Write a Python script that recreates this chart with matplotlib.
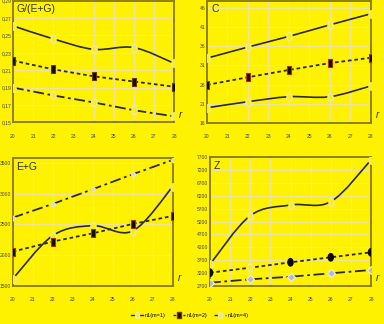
import numpy as np
import matplotlib
matplotlib.use("Agg")
import matplotlib.pyplot as plt
from matplotlib.path import Path
from matplotlib.patches import PathPatch
from matplotlib.lines import Line2D

plt.rcParams['font.family'] = ['Liberation Sans Narrow', 'Liberation Sans', 'DejaVu Sans']

# ---- data ----
r = [20, 22, 24, 26, 28]
x_ticks = [20, 21, 22, 23, 24, 25, 26, 27, 28]

ratio_s1 = [0.261, 0.246, 0.234, 0.236, 0.218]
ratio_s2 = [0.221, 0.211, 0.203, 0.197, 0.191]
ratio_s3 = [0.190, 0.181, 0.173, 0.164, 0.157]

c_s1 = [32.9, 35.8, 38.6, 41.6, 44.5]
c_s2 = [25.9, 27.9, 29.8, 31.6, 33.0]
c_s3 = [19.9, 21.5, 22.8, 22.8, 25.6]

eg_s1 = [1610, 2317, 2480, 2394, 3118]
eg_s2 = [2056, 2220, 2355, 2508, 2639]
eg_s3 = [2611, 2835, 3075, 3320, 3554]

z_s1 = [3533, 5426, 5843, 5971, 7595]
z_s2 = [3206, 3401, 3611, 3806, 4000]
z_s3 = [2817, 2949, 3050, 3183, 3311]

legend_labels = ["n1(m=1)", "n1(m=2)", "n1(m=4)"]

BG = '#fff200'
FRAME = '#8f8000'
GRID = '#eee4a0'
LINE = '#2a2a2a'

W, H = 384, 324
fig = plt.figure(figsize=(W / 100, H / 100), dpi=100, facecolor=BG)

# custom marker shapes: tall ellipse and tall rectangle
t = np.linspace(0, 2 * np.pi, 40)
ellipse = Path(np.column_stack([0.7 * np.cos(t), np.sin(t)]), closed=True)
rect = Path([(-0.55, -1), (0.55, -1), (0.55, 1), (-0.55, 1), (-0.55, -1)], closed=True)


def px_axes(L, R, T, B):
    ax = fig.add_axes([L / W, 1 - B / H, (R - L) / W, (B - T) / H])
    ax.set_facecolor(BG)
    for s in ax.spines.values():
        s.set_color(FRAME)
        s.set_linewidth(1.4)
    ax.set_xlim(20, 28)
    ax.set_xticks(x_ticks)
    ax.set_xticklabels([str(v) for v in x_ticks])
    ax.grid(True, color=GRID, lw=0.8)
    ax.set_axisbelow(True)
    ax.tick_params(length=0, labelsize=3.6, colors='#444444')
    ax.tick_params(axis='x', pad=8)
    ax.tick_params(axis='y', pad=1.2)
    return ax


def smooth(ax, x, y, lw=1.2, color=LINE):
    pts = np.column_stack([x, y]).astype(float)
    n = len(pts)
    verts = [tuple(pts[0])]
    codes = [Path.MOVETO]
    for i in range(n - 1):
        p0 = pts[max(i - 1, 0)]
        p1 = pts[i]
        p2 = pts[i + 1]
        p3 = pts[min(i + 2, n - 1)]
        c1 = p1 + (p2 - p0) / 6
        c2 = p2 - (p3 - p1) / 6
        verts += [tuple(c1), tuple(c2), tuple(p2)]
        codes += [Path.CURVE4] * 3
    ax.add_patch(PathPatch(Path(verts, codes), fill=False, ec=color, lw=lw, zorder=3))


def markers(ax, x, y, marker, fc, ec, ms=5.5, mew=0.8):
    ax.plot(x, y, ls='none', marker=marker, ms=ms, mfc=fc, mec=ec, mew=mew, zorder=4)


def fmt_comma(v):
    return f"{v:.2f}".replace('.', ',')


OPEN_FC = BG
OPEN_EC = '#e6e6e6'
SQ_FC = '#0a0a0a'
SQ_EC = '#6a3a00'
DOTTED = (0, (2, 1.6))
DASHDOT = (0, (6, 2, 1.5, 2))

# ---- G/(E+G) ----
ax1 = px_axes(13, 174, 0.6, 122.4)
ax1.set_ylim(0.15, 0.29)
yt = np.round(np.arange(0.15, 0.291, 0.02), 2)
ax1.set_yticks(yt)
ax1.set_yticklabels([fmt_comma(v) for v in yt])
smooth(ax1, r, ratio_s1)
markers(ax1, r, ratio_s1, ellipse, OPEN_FC, OPEN_EC)
ax1.plot(r, ratio_s2, ls=DOTTED, color=LINE, lw=1.3, zorder=3)
markers(ax1, r, ratio_s2, rect, SQ_FC, SQ_EC)
ax1.plot(r, ratio_s3, ls=DASHDOT, color=LINE, lw=1.3, zorder=3)
markers(ax1, r, ratio_s3, ellipse, OPEN_FC, OPEN_EC)
ax1.text(0.02, 0.97, "G/(E+G)", transform=ax1.transAxes, ha='left', va='top',
         fontsize=7.5, color='#333333')

# ---- C ----
ax2 = px_axes(207, 370.5, 0.5, 122.7)
ax2.set_ylim(16, 48)
ax2.set_yticks(np.arange(16, 47, 5))
smooth(ax2, r, c_s1)
markers(ax2, r, c_s1, ellipse, OPEN_FC, OPEN_EC)
ax2.plot(r, c_s2, ls=DOTTED, color=LINE, lw=1.3, zorder=3)
markers(ax2, r, c_s2, rect, SQ_FC, '#b03000')
smooth(ax2, r, c_s3)
markers(ax2, r, c_s3, ellipse, OPEN_FC, OPEN_EC)
ax2.text(0.025, 0.97, "C", transform=ax2.transAxes, ha='left', va='top',
         fontsize=7.5, color='#333333')

# ---- E+G ----
ax3 = px_axes(12.7, 172.7, 157.7, 285.7)
ax3.set_ylim(1500, 3590)
ax3.set_yticks(np.arange(1500, 3501, 500))
smooth(ax3, r, eg_s1)
markers(ax3, r, eg_s1, ellipse, OPEN_FC, OPEN_EC)
ax3.plot(r, eg_s2, ls=DOTTED, color=LINE, lw=1.3, zorder=3)
markers(ax3, r, eg_s2, rect, SQ_FC, '#b03000')
ax3.plot(r, eg_s3, ls=DASHDOT, color=LINE, lw=1.3, zorder=3)
markers(ax3, r, eg_s3, 'D', '#d8d8c8', OPEN_EC, ms=2.5)
ax3.text(0.02, 0.97, "E+G", transform=ax3.transAxes, ha='left', va='top',
         fontsize=7.5, color='#333333')

# ---- Z ----
ax4 = px_axes(210, 371, 157.3, 285.7)
ax4.set_ylim(2700, 7700)
ax4.set_yticks(np.arange(2700, 7701, 500))
smooth(ax4, r, z_s1)
markers(ax4, r, z_s1, ellipse, OPEN_FC, OPEN_EC)
ax4.plot(r, z_s2, ls=DOTTED, color=LINE, lw=1.3, zorder=3)
ax4.scatter(r, z_s2, marker=ellipse, s=30,
            c=[SQ_FC, OPEN_FC, SQ_FC, SQ_FC, SQ_FC],
            edgecolors=[SQ_FC, OPEN_EC, SQ_FC, SQ_FC, SQ_FC], linewidths=0.8, zorder=4)
ax4.plot(r, z_s3, ls=DASHDOT, color=LINE, lw=1.3, zorder=3)
markers(ax4, r, z_s3, 'D', '#b4bccb', '#eeeeee', ms=4)
ax4.text(0.025, 0.97, "Z", transform=ax4.transAxes, ha='left', va='top',
         fontsize=7.5, color='#333333')

# axis name next to each horizontal axis
for ax in (ax1, ax2, ax3, ax4):
    ax.text(1.03, 0.06, "r", transform=ax.transAxes, ha='left', va='center',
            fontsize=7, color='#333333', style='italic')

handles = [
    Line2D([], [], color=LINE, lw=1.0, marker=ellipse, ms=4, mfc=OPEN_FC, mec=OPEN_EC),
    Line2D([], [], color=LINE, lw=1.0, ls=DOTTED, marker=rect, ms=4, mfc=SQ_FC, mec=SQ_EC),
    Line2D([], [], color=LINE, lw=1.0, ls=DASHDOT, marker=ellipse, ms=4, mfc=OPEN_FC, mec=OPEN_EC),
]
fig.legend(handles, legend_labels, loc='center', bbox_to_anchor=(190 / W, 1 - 315 / H),
           ncol=3, frameon=False, fontsize=4, handlelength=2.2, columnspacing=1.2,
           handletextpad=0.3)

fig.savefig("out.png", dpi=100, facecolor=BG)
